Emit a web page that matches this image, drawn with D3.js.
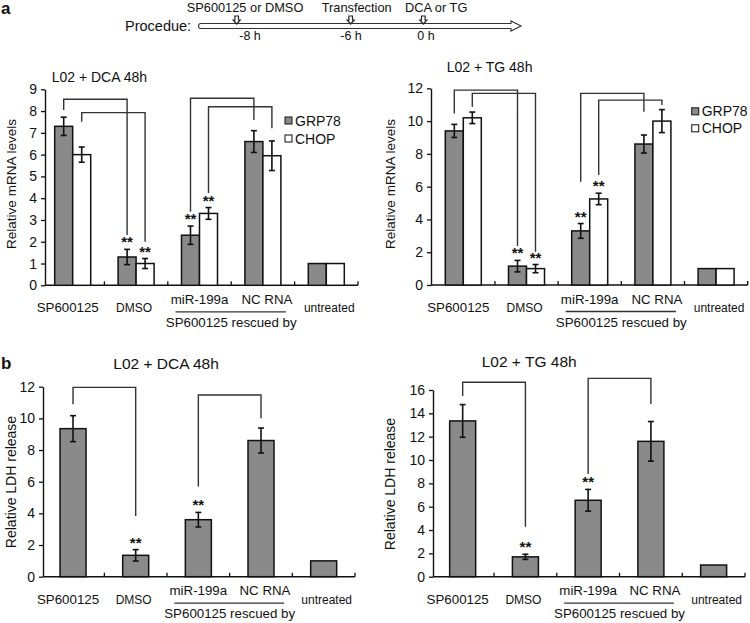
<!DOCTYPE html>
<html><head><meta charset="utf-8">
<script src="https://cdn.jsdelivr.net/npm/d3@7"></script>
<style>
body{margin:0;background:#fff}
text{font-family:"Liberation Sans",Arial,sans-serif;fill:#111}
</style>
</head><body>
<svg id="c" width="750" height="623"></svg>
<script>
// ---------------- data ----------------
const categories = ["SP600125", "DMSO", "miR-199a", "NC RNA", "untreated"];
const mrnaSeries = ["GRP78", "CHOP"];
const rescuedGroup = ["miR-199a", "NC RNA"];
const rescuedLabel = "SP600125 rescued by";

const dcaGRP78    = [7.3, 1.3, 2.3, 6.6, 1.0];
const dcaGRP78Err = [0.42, 0.35, 0.42, 0.5, 0];
const dcaCHOP     = [6.0, 1.0, 3.3, 5.95, 1.0];
const dcaCHOPErr  = [0.35, 0.23, 0.27, 0.68, 0];

const tgGRP78     = [9.4, 1.15, 3.3, 8.6, 1.0];
const tgGRP78Err  = [0.4, 0.35, 0.45, 0.55, 0];
const tgCHOP      = [10.2, 1.0, 5.25, 10.0, 1.0];
const tgCHOPErr   = [0.35, 0.25, 0.35, 0.7, 0];

const ldhDCA      = [9.35, 1.35, 3.6, 8.6, 1.0];
const ldhDCAErr   = [0.82, 0.36, 0.46, 0.79, 0];
const ldhTG       = [13.35, 1.7, 6.55, 11.6, 1.0];
const ldhTGErr    = [1.4, 0.22, 0.93, 1.7, 0];

const significant = [false, true, true, false, false];

const ticksDcaMrna = [0, 1, 2, 3, 4, 5, 6, 7, 8, 9];
const ticksTgMrna  = [0, 2, 4, 6, 8, 10, 12];
const ticksDcaLdh  = [0, 2, 4, 6, 8, 10, 12];
const ticksTgLdh   = [0, 2, 4, 6, 8, 10, 12, 14, 16];

// comparison brackets: [fromCategory, toCategory, series, startLevel, topLevel, endLevel]
const bracketsDcaMrna = [[0, 1, 0, 8.05, 8.54, 2.31], [0, 1, 1, 7.51, 7.93, 2.0],
                         [2, 3, 0, 3.38, 8.59, 7.59], [2, 3, 1, 4.24, 8.2, 7.21]];
const bracketsTgMrna  = [[0, 1, 0, 10.47, 11.89, 2.38], [0, 1, 1, 10.87, 11.69, 2.03],
                         [2, 3, 0, 6.3, 11.69, 10.57], [2, 3, 1, 6.71, 11.28, 10.98]];
const bracketsDcaLdh  = [[0, 1, 0, 10.89, 11.96, 3.83], [2, 3, 0, 5.69, 11.48, 10.0]];
const bracketsTgLdh   = [[0, 1, 0, 15.48, 16.66, 4.28], [2, 3, 0, 8.8, 17.0, 14.8]];

const procedureSteps = ["SP600125 or DMSO", "Transfection", "DCA or TG"];
const procedureTimes = ["-8 h", "-6 h", "0 h"];

// ---------------- drawing ----------------
const svg = d3.select("#c");
const GRAY = "#8a8a8a", INK = "#111";

// panel letters
svg.append("text").attr("x", 1).attr("y", 14).style("font-size", "17px").style("font-weight", "bold").text("a");
svg.append("text").attr("x", 1).attr("y", 369).style("font-size", "17px").style("font-weight", "bold").text("b");

// procedure diagram
(function () {
  const g = svg.append("g");
  g.append("text").attr("x", 125).attr("y", 30.5).style("font-size", "14.5px").text("Procedue:");
  const yT = 23.5, yB = 28.5, x0 = 199, xh = 511, xt = 521;
  g.append("path")
    .attr("d", `M${x0 + 2},${yT} H${xh} V${yT - 2.5} L${xt},${(yT + yB) / 2} L${xh},${yB + 2.5} V${yB} H${x0 + 2} A2.5,2.5 0 0 1 ${x0 + 2},${yT} Z`)
    .attr("fill", "#fff").attr("stroke", "#333").attr("stroke-width", 1.1);
  const markX = [236.7, 350.7, 423.3];
  const topX = [186.7, 321.7, 405];
  const botX = [250, 351, 426];
  procedureSteps.forEach((s, i) => {
    const m = markX[i];
    g.append("path")
      .attr("d", `M${m - 1.8},16 H${m + 1.8} V20 H${m + 3.5} L${m},24 L${m - 3.5},20 H${m - 1.8} Z`)
      .attr("fill", "#fff").attr("stroke", "#222").attr("stroke-width", 1.2);
    g.append("text").attr("x", topX[i]).attr("y", 12).style("font-size", "12.8px").text(s);
    g.append("text").attr("x", botX[i]).attr("y", 40).attr("text-anchor", "middle").style("font-size", "12.5px").text(procedureTimes[i]);
  });
})();

function drawPanel(p) {
  const g = svg.append("g");
  const x = d3.scaleBand().domain(categories).range(p.xRange);
  const y = d3.scaleLinear().domain([0, p.yMax]).range(p.yRange);
  const cx = i => x(categories[i]) + x.bandwidth() / 2;
  const n = p.series.length;

  // y axis
  const ya = g.append("g").attr("transform", `translate(${p.axisX},0)`)
    .call(d3.axisLeft(y).tickValues(p.ticks).tickSize(4).tickPadding(4).tickSizeOuter(0));
  ya.select(".domain").attr("stroke", INK).attr("stroke-width", 1.4);
  ya.selectAll(".tick line").attr("stroke", INK).attr("stroke-width", 1.3);
  ya.selectAll(".tick text").style("font-size", "14px").attr("fill", INK)
    .style("font-family", '"Liberation Sans",Arial,sans-serif');

  // x axis line + inner boundary ticks
  const y0 = y(0);
  g.append("line").attr("x1", p.axisX).attr("x2", p.xRange[1]).attr("y1", y0).attr("y2", y0)
    .attr("stroke", INK).attr("stroke-width", 1.4);
  const bounds = categories.slice(1).map(c => x(c)).concat([p.xRange[1]]);
  g.selectAll(".bt").data(bounds).join("line")
    .attr("x1", d => d).attr("x2", d => d).attr("y1", y0).attr("y2", y0 - 4)
    .attr("stroke", INK).attr("stroke-width", 1.3);

  // bars
  p.series.forEach((s, si) => {
    const off = (si - n / 2) * p.bw;
    g.selectAll(null).data(s.vals).join("rect")
      .attr("x", (d, i) => cx(i) + off)
      .attr("y", d => y(d)).attr("width", p.bw).attr("height", d => y0 - y(d))
      .attr("fill", s.fill).attr("stroke", "#111").attr("stroke-width", 1.5);
  });
  // error bars + significance
  p.series.forEach((s, si) => {
    const off = (si - n / 2) * p.bw + p.bw / 2;
    s.vals.forEach((v, i) => {
      const e = s.errs[i];
      const xc = cx(i) + off;
      if (e > 0) {
        const yt = y(v + e), yb = y(v - e);
        g.append("line").attr("x1", xc).attr("x2", xc).attr("y1", yt).attr("y2", yb).attr("stroke", "#111").attr("stroke-width", 1.6);
        [yt, yb].forEach(yy => g.append("line").attr("x1", xc - 3).attr("x2", xc + 3).attr("y1", yy).attr("y2", yy).attr("stroke", "#111").attr("stroke-width", 1.6));
      }
      if (significant[i]) {
        g.append("text").attr("x", xc).attr("y", y(v + e) - 2).attr("text-anchor", "middle")
          .style("font-size", "15px").style("font-weight", "bold").text("**");
      }
    });
  });
  // brackets
  p.brackets.forEach(b => {
    const [f, t, si, a, top, end] = b;
    const off = (si - n / 2) * p.bw + p.bw / 2;
    g.append("path")
      .attr("d", `M${cx(f) + off},${y(a)} V${y(top)} H${cx(t) + off} V${y(end)}`)
      .attr("fill", "none").attr("stroke", "#333").attr("stroke-width", 1.4);
  });

  // category labels
  const dx = [-5, -2, 0, 4, 3];
  categories.forEach((c, i) => {
    const raised = rescuedGroup.includes(c);
    const small = (c === "DMSO" || c === "untreated");
    g.append("text").attr("x", cx(i) + dx[i]).attr("y", y0 + (raised ? 18.5 : 27))
      .attr("text-anchor", "middle").style("font-size", small ? "12px" : "13.3px").text(c);
  });
  const gi = rescuedGroup.map(c => categories.indexOf(c));
  g.append("line").attr("x1", cx(gi[0]) - 24).attr("x2", cx(gi[1]) + 23)
    .attr("y1", y0 + 26.5).attr("y2", y0 + 26.5).attr("stroke", "#333").attr("stroke-width", 1.3);
  g.append("text").attr("x", (cx(gi[0]) + cx(gi[1])) / 2).attr("y", y0 + 41.5)
    .attr("text-anchor", "middle").style("font-size", "13.3px").text(rescuedLabel);

  // title and y label
  g.append("text").attr("x", p.title[1]).attr("y", p.title[2]).style("font-size", p.title[3]).text(p.title[0]);
  g.append("text").attr("transform", `translate(${p.ylab[1]},${p.ylab[2]}) rotate(-90)`)
    .attr("text-anchor", "middle").attr("dy", "0.35em").style("font-size", p.ylab[3]).text(p.ylab[0]);

  // legend
  if (p.legend) {
    p.series.forEach((s, si) => {
      const ly = p.legend[1] + si * p.legend[2];
      g.append("rect").attr("x", p.legend[0]).attr("y", ly - 3.5).attr("width", 7).attr("height", 7)
        .attr("fill", s.fill).attr("stroke", "#222").attr("stroke-width", 1.1);
      g.append("text").attr("x", p.legend[0] + 10).attr("y", ly).attr("dy", "0.36em")
        .style("font-size", "14px").text(s.name);
    });
  }
}

drawPanel({
  xRange: [41, 358], axisX: 45, yRange: [285.3, 89.3], yMax: 9, ticks: ticksDcaMrna, bw: 18,
  series: [{name: mrnaSeries[0], vals: dcaGRP78, errs: dcaGRP78Err, fill: GRAY},
           {name: mrnaSeries[1], vals: dcaCHOP, errs: dcaCHOPErr, fill: "#fff"}],
  brackets: bracketsDcaMrna,
  title: ["L02 + DCA 48h", 51.7, 81.5, "14px"],
  ylab: ["Relative mRNA levels", 11, 184, "13.5px"],
  legend: [285, 120.5, 18]
});
drawPanel({
  xRange: [431.7, 747.7], axisX: 431, yRange: [285, 88.3], yMax: 12, ticks: ticksTgMrna, bw: 18,
  series: [{name: mrnaSeries[0], vals: tgGRP78, errs: tgGRP78Err, fill: GRAY},
           {name: mrnaSeries[1], vals: tgCHOP, errs: tgCHOPErr, fill: "#fff"}],
  brackets: bracketsTgMrna,
  title: ["L02 + TG 48h", 446.7, 71.5, "14px"],
  ylab: ["Relative mRNA levels", 390, 184, "13.5px"],
  legend: [691.7, 111.3, 17]
});
drawPanel({
  xRange: [41.7, 355], axisX: 43, yRange: [576.7, 386.7], yMax: 12, ticks: ticksDcaLdh, bw: 26,
  series: [{name: "LDH", vals: ldhDCA, errs: ldhDCAErr, fill: GRAY}],
  brackets: bracketsDcaLdh,
  title: ["L02 + DCA 48h", 113.3, 368.7, "15.5px"],
  ylab: ["Relative LDH release", 11, 482, "14px"]
});
drawPanel({
  xRange: [431.3, 745], axisX: 433, yRange: [576.7, 390], yMax: 16, ticks: ticksTgLdh, bw: 26,
  series: [{name: "LDH", vals: ldhTG, errs: ldhTGErr, fill: GRAY}],
  brackets: bracketsTgLdh,
  title: ["L02 + TG 48h", 481.7, 367, "15.5px"],
  ylab: ["Relative LDH release", 390, 484, "14px"]
});
</script>
</body></html>
